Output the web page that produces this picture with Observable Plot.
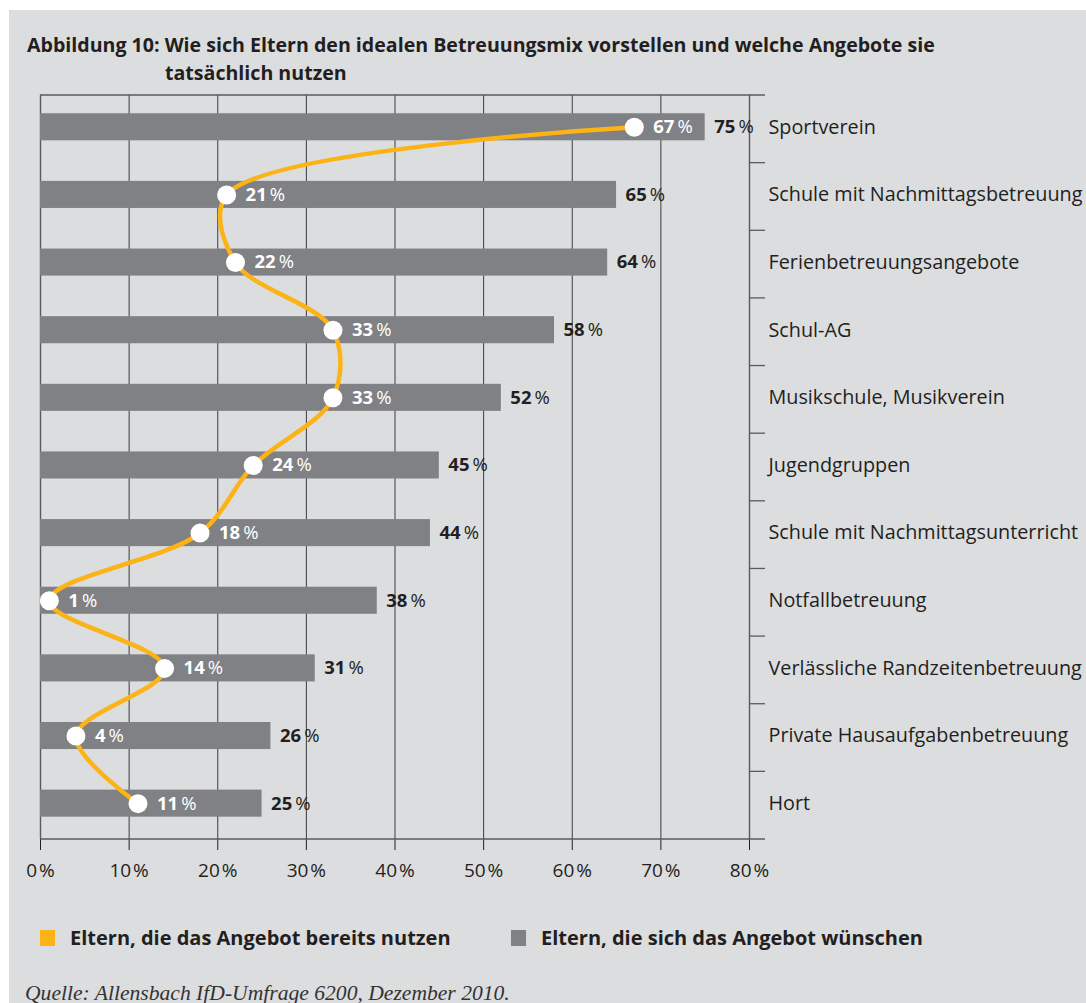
<!DOCTYPE html>
<html>
<head>
<meta charset="utf-8">
<script src="https://cdn.jsdelivr.net/npm/d3@7"></script>
<script src="https://cdn.jsdelivr.net/npm/@observablehq/plot@0.6"></script>
<style>
  html, body { margin: 0; padding: 0; background: #ffffff; }
  body { width: 1086px; height: 1003px; position: relative; overflow: hidden; font-family: "Open Sans", sans-serif; color: #231f20; }
  #panel { position: absolute; left: 9px; top: 10px; width: 1077px; height: 993px; background: #dcdddf; }
  .title { position: absolute; font-weight: 700; font-size: 19.6px; white-space: nowrap; color: #231f20; line-height: 1; }
  #chart { position: absolute; left: 0; top: 0; }
  .legend { position: absolute; top: 928px; font-weight: 700; font-size: 20px; line-height: 20px; white-space: nowrap; display: flex; align-items: center; }
  .legend .sw { width: 15px; height: 16px; display: inline-block; margin-right: 15px; }
  #source { position: absolute; left: 25px; top: 983px; font-family: "Liberation Serif", "DejaVu Serif", serif; font-style: italic; font-size: 21.6px; line-height: 1; color: #333; white-space: nowrap; }
</style>
</head>
<body>
<div id="panel"></div>
<div class="title" style="left:27px; top:35px;">Abbildung 10: Wie sich Eltern den idealen Betreuungsmix vorstellen und welche Angebote sie</div>
<div class="title" style="left:165px; top:63px;">tatsächlich nutzen</div>
<div id="chart"></div>
<div class="legend" style="left:40px;"><span class="sw" style="background:#fbb316"></span>Eltern, die das Angebot bereits nutzen</div>
<div class="legend" style="left:511px;"><span class="sw" style="background:#808184"></span>Eltern, die sich das Angebot wünschen</div>
<div id="source">Quelle: Allensbach IfD-Umfrage 6200, Dezember 2010.</div>
<script>
const categories = [
  "Sportverein",
  "Schule mit Nachmittagsbetreuung",
  "Ferienbetreuungsangebote",
  "Schul-AG",
  "Musikschule, Musikverein",
  "Jugendgruppen",
  "Schule mit Nachmittagsunterricht",
  "Notfallbetreuung",
  "Verlässliche Randzeitenbetreuung",
  "Private Hausaufgabenbetreuung",
  "Hort"
];
const wish = [75, 65, 64, 58, 52, 45, 44, 38, 31, 26, 25];
const used = [67, 21, 22, 33, 33, 24, 18, 1, 14, 4, 11];
const xTicks = [0, 10, 20, 30, 40, 50, 60, 70, 80];

const data = categories.map((c, i) => ({category: c, wish: wish[i], used: used[i]}));

const W = 1086, H = 900, mT = 95, mB = 61, mL = 40, mR = 337;
const ink = "#231f20", gridC = "#3c3c3e", barC = "#808184", yellow = "#fbb316";

const plot = Plot.plot({
  width: W, height: H,
  marginTop: mT, marginBottom: mB, marginLeft: mL, marginRight: mR,
  style: {background: "transparent", fontFamily: "Open Sans, sans-serif", fontSize: "19px", color: ink, overflow: "visible"},
  x: {domain: [0, 80], ticks: xTicks, tickSize: 11, tickPadding: 13, tickFormat: d => d + "\u200A%", label: null},
  y: {domain: categories, paddingInner: 0.6, paddingOuter: 0.3, align: 0.45, round: false, axis: "right", tickSize: 0, tickPadding: 19, label: null},
  marks: [
    Plot.ruleX(xTicks, {stroke: d => (d === 0 || d === 80) ? "#5a5a5c" : gridC, strokeWidth: d => (d === 0 || d === 80) ? 1.4 : 1}),
    Plot.barX(data, {x: "wish", y: "category", fill: barC}),
    Plot.line(data, {x: "used", y: "category", stroke: yellow, strokeWidth: 4.5, curve: "catmull-rom"}),
    Plot.dot(data, {x: "used", y: "category", r: 9.5, fill: "white", stroke: "none"}),
    Plot.text(data, {x: "used", y: "category", text: d => String(d.used), dx: 19, textAnchor: "start", fill: "white", fontWeight: 700, fontSize: 18.5}),
    Plot.text(data, {x: "wish", y: "category", text: d => String(d.wish), dx: 9, textAnchor: "start", fill: ink, fontWeight: 700, fontSize: 18.5})
  ]
});
document.getElementById("chart").appendChild(plot);

// y-axis labels a bit larger, like the reference
d3.select(plot).selectAll("text").each(function() {
  const t = this.textContent;
  if (categories.includes(t)) d3.select(this).attr("font-size", 19.8);
});

// add the regular-weight percent sign to the value labels
d3.select(plot).selectAll("text").each(function() {
  const t = this.textContent;
  if (/^\d+$/.test(t)) {
    d3.select(this).append("tspan").attr("font-weight", 400).text("\u2009%");
  }
});

// frame lines and row separators derived from the scales
const xs = plot.scale("x");
const x80 = xs.apply(80), x0 = xs.apply(0);
const ext = 16;
const step = (H - mT - mB) / categories.length;
const g = d3.select(plot).append("g").attr("stroke", "#5a5a5c").attr("stroke-width", 1.3);
g.append("line").attr("x1", x0).attr("x2", x80 + ext).attr("y1", mT).attr("y2", mT);
g.append("line").attr("x1", x0).attr("x2", x80 + ext).attr("y1", H - mB).attr("y2", H - mB);
for (let i = 1; i < categories.length; i++) {
  const yy = mT + i * step;
  g.append("line").attr("x1", x80).attr("x2", x80 + ext).attr("y1", yy).attr("y2", yy);
}
</script>
</body>
</html>
